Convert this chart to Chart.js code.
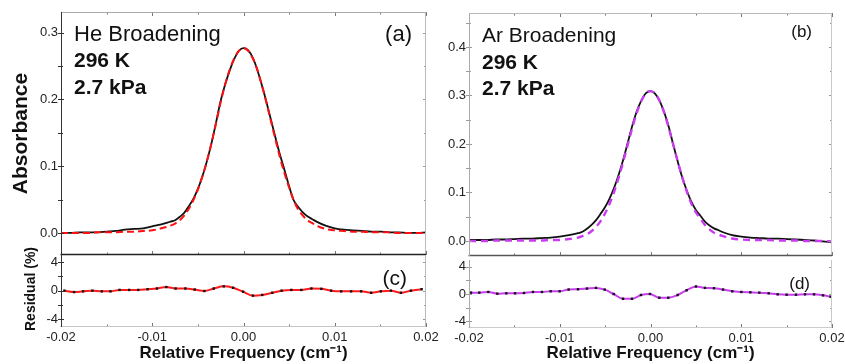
<!DOCTYPE html>
<html><head><meta charset="utf-8">
<script src="https://cdn.jsdelivr.net/npm/chart.js@4.4.1/dist/chart.umd.min.js"></script>
<style>
html,body{margin:0;padding:0;background:#fff;}
#wrap{position:relative;width:845px;height:364px;overflow:hidden;background:#fff;}
canvas{position:absolute;}
</style></head><body>
<div id="wrap">
<canvas id="c1" width="445" height="256" style="left:0;top:0"></canvas>
<canvas id="c2" width="445" height="124" style="left:0;top:240px"></canvas>
<canvas id="c3" width="415" height="257" style="left:430px;top:0"></canvas>
<canvas id="c4" width="415" height="108" style="left:430px;top:256px"></canvas>
</div>
<script>
// ---------- data ----------
const freq = [-0.020,-0.019,-0.018,-0.017,-0.016,-0.015,-0.014,-0.013,-0.012,-0.011,-0.010,-0.009,-0.008,
  -0.0075,-0.007,-0.0065,-0.006,-0.0055,-0.005,-0.0045,-0.004,-0.0035,-0.003,-0.0025,-0.002,-0.0015,-0.001,-0.0005,
  0,
  0.0005,0.001,0.0015,0.002,0.0025,0.003,0.0035,0.004,0.0045,0.005,0.0055,0.006,0.0065,0.007,0.0075,
  0.008,0.009,0.010,0.011,0.012,0.013,0.014,0.015,0.016,0.017,0.018,0.019,0.020];

const heMeasured = [0.000,0.000,0.001,0.001,0.001,0.002,0.003,0.005,0.006,0.007,0.010,0.013,0.017,
  0.019,0.024,0.030,0.040,0.051,0.066,0.085,0.108,0.135,0.166,0.198,0.223,0.244,0.261,0.273,
  0.277,
  0.274,0.263,0.245,0.222,0.197,0.170,0.143,0.117,0.094,0.070,0.049,0.039,0.031,0.025,0.021,
  0.017,0.011,0.007,0.005,0.004,0.003,0.002,0.002,0.001,0.001,0.000,0.000,0.001];

const heFit = [0.000,0.000,0.000,0.000,0.001,0.001,0.001,0.002,0.002,0.003,0.004,0.007,0.011,
  0.014,0.019,0.026,0.036,0.049,0.065,0.085,0.108,0.135,0.165,0.196,0.223,0.245,0.262,0.273,
  0.277,
  0.273,0.262,0.245,0.222,0.196,0.168,0.140,0.113,0.089,0.068,0.049,0.035,0.026,0.019,0.015,
  0.011,0.006,0.004,0.003,0.002,0.002,0.001,0.001,0.001,0.000,0.000,0.000,0.000];

const arMeasured = [0.002,0.002,0.002,0.003,0.003,0.004,0.005,0.005,0.006,0.007,0.009,0.012,0.016,
  0.019,0.025,0.033,0.043,0.056,0.070,0.088,0.110,0.137,0.168,0.203,0.238,0.268,0.290,0.305,
  0.309,
  0.304,0.289,0.266,0.236,0.199,0.164,0.131,0.104,0.081,0.064,0.052,0.040,0.032,0.026,0.022,
  0.018,0.012,0.009,0.007,0.006,0.005,0.005,0.004,0.003,0.002,0.001,-0.001,-0.003];

const arFit = [0.000,0.000,0.000,0.001,0.001,0.001,0.001,0.001,0.001,0.002,0.002,0.004,0.007,
  0.010,0.014,0.020,0.029,0.041,0.057,0.077,0.102,0.131,0.164,0.199,0.234,0.265,0.289,0.304,
  0.309,
  0.304,0.289,0.265,0.234,0.199,0.164,0.131,0.102,0.077,0.059,0.046,0.033,0.024,0.017,0.013,
  0.010,0.005,0.003,0.002,0.002,0.002,0.001,0.001,0.001,0.000,0.000,0.000,-0.001];

const heResFreq = [-0.01963,-0.01857,-0.01758,-0.01656,-0.01553,-0.01458,-0.01359,-0.01253,-0.01154,-0.01051,
  -0.00949,-0.00846,-0.00744,-0.00637,-0.00535,-0.00429,-0.00326,-0.00216,-0.00114,-0.00004,
  0.00103,0.00205,0.00315,0.00418,0.00524,0.00634,0.00744,0.00853,0.00960,0.01070,
  0.01179,0.01289,0.01399,0.01505,0.01615,0.01725,0.01835,0.01952];
const heResidual = [0.0,-0.2,-0.1,0.0,-0.1,-0.1,0.1,0.1,0.1,0.2,
  0.3,0.5,0.3,0.3,0.15,-0.05,0.3,0.6,0.4,-0.15,
  -0.7,-0.6,-0.3,0.0,0.1,0.1,0.3,0.25,0.0,-0.1,
  -0.1,-0.1,-0.3,-0.1,0.0,-0.3,0.0,0.2];

const arResFreq = [-0.01978,-0.01886,-0.01787,-0.01688,-0.01589,-0.01493,-0.01394,-0.01295,-0.01196,-0.01100,
  -0.01001,-0.00902,-0.00799,-0.00700,-0.00601,-0.00505,-0.00406,-0.00303,-0.00204,-0.00105,
  -0.00006,0.00097,0.00196,0.00299,0.00398,0.00501,0.00600,0.00699,0.00799,0.00901,
  0.01001,0.01100,0.01199,0.01302,0.01401,0.01500,0.01603,0.01703,0.01802,0.01901,0.01985];
const arResidual = [0.2,0.2,0.3,0.05,0.1,0.1,0.15,0.3,0.3,0.4,
  0.4,0.65,0.7,0.8,0.9,0.65,0.0,-0.7,-0.7,-0.15,
  0.0,-0.55,-0.55,-0.15,0.55,1.1,0.9,0.85,0.65,0.4,
  0.3,0.25,0.2,0.1,-0.05,-0.1,-0.1,-0.05,-0.05,-0.2,-0.4];

const xTicks = [-0.02,-0.01,0,0.01,0.02];
const xTickLabels = ['-0.02','-0.01','0.00','0.01','0.02'];
const xMinor = [-0.015,-0.005,0.005,0.015];
const heTicks = [0,0.1,0.2,0.3];
const heTickLabels = ['0.0','0.1','0.2','0.3'];
const heMinor = [0.05,0.15,0.25];
const arTicks = [0,0.1,0.2,0.3,0.4];
const arTickLabels = ['0.0','0.1','0.2','0.3','0.4'];
const arMinor = [0.05,0.15,0.25,0.35,0.45];
const resTicks = [-4,0,4];
const resTickLabels = ['-4','0','4'];
const resMinor = [-2,2];

// ---------- helpers ----------
const FONT = "'Liberation Sans', Arial, Helvetica, sans-serif";
const pts = (xs, ys) => xs.map((x, i) => ({x, y: ys[i]}));

const framePlugin = {
  id: 'frame',
  afterDraw(chart, args, o) {
    const {ctx, chartArea: a} = chart;
    const xs = chart.scales.x, ys = chart.scales.y;
    ctx.save();
    const line = (c, w, x1, y1, x2, y2) => {
      if (!c) return;
      ctx.strokeStyle = c; ctx.lineWidth = w;
      ctx.beginPath(); ctx.moveTo(x1, y1); ctx.lineTo(x2, y2); ctx.stroke();
    };
    // ticks
    const xt = (vals, len) => vals.forEach(v => {
      const px = Math.round(xs.getPixelForValue(v)) + 0.5;
      if (o.tickTop) line('#777', 1, px, a.top, px, a.top + len);
      if (o.tickBottom) line('#777', 1, px, a.bottom, px, a.bottom - len);
    });
    xt(o.xMajor, 4); xt(o.xMinor, 2.5);
    const yt = (vals, len) => vals.forEach(v => {
      const py = Math.round(ys.getPixelForValue(v)) + 0.5;
      if (py < a.top || py > a.bottom) return;
      line(o.leftTickColor, 1, a.left - 3, py, a.left + len, py);
      line('#999', 1, a.right, py, a.right - len, py);
    });
    yt(o.yMajor, 3); yt(o.yMinor, 2);
    // borders
    const L = Math.round(a.left) + 0.5, R = Math.round(a.right) - 0.5;
    const T = Math.round(a.top) + 0.5, B = Math.round(a.bottom) - 0.5;
    if (o.top) line(o.top[0], o.top[1], a.left, T, a.right, T);
    if (o.right) line(o.right[0], o.right[1], R, a.top, R, a.bottom);
    if (o.bottom) line(o.bottom[0], o.bottom[1], a.left - 0.5, B, a.right, B);
    if (o.left) line(o.left[0], o.left[1], L, a.top, L, a.bottom);
    // annotation texts
    (o.texts || []).forEach(t => {
      ctx.font = t.font; ctx.fillStyle = '#111';
      ctx.textBaseline = 'middle';
      ctx.textAlign = t.align || 'left';
      const x = t.fromRight ? a.right - t.dx : a.left + t.dx;
      ctx.fillText(t.text, x, a.top + t.dy);
    });
    // rotated side title
    if (o.sideTitle) {
      const s = o.sideTitle;
      ctx.save();
      ctx.translate(s.x, (a.top + a.bottom) / 2 + (s.dy || 0));
      ctx.rotate(-Math.PI / 2);
      ctx.font = s.font; ctx.fillStyle = '#111';
      ctx.textAlign = 'center'; ctx.textBaseline = 'middle';
      ctx.fillText(s.text, 0, 0);
      ctx.restore();
    }
    ctx.restore();
  }
};
Chart.register(framePlugin);

function yScale(min, max, ticks, labels, width, title) {
  return {
    type: 'linear', min, max,
    afterBuildTicks: s => { s.ticks = ticks.map(v => ({value: v})); },
    ticks: {autoSkip: false, padding: 3, color: '#222', font: {family: FONT, size: 13},
      callback: (v, i) => labels[i]},
    grid: {display: false, drawTicks: false},
    border: {display: false},
    title: title || {display: false},
    afterFit: s => { s.width = width; s.paddingTop = 0; s.paddingBottom = 0; }
  };
}
function xScale(show, height) {
  const base = {
    type: 'linear', min: -0.02, max: 0.02,
    afterBuildTicks: s => { s.ticks = xTicks.map(v => ({value: v})); },
    grid: {display: false, drawTicks: false},
    border: {display: false}
  };
  if (!show) return Object.assign(base, {display: false});
  return Object.assign(base, {
    position: 'bottom',
    ticks: {autoSkip: false, maxRotation: 0, padding: 3, color: '#222',
      font: {family: FONT, size: 13}, callback: (v, i) => xTickLabels[i]},
    title: {display: true, text: 'Relative Frequency (cm\u207B\u00B9)', color: '#111',
      font: {family: FONT, size: 17, weight: 'bold'}, padding: {top: 0, bottom: 0}},
    afterFit: s => { s.height = height; s.paddingLeft = 0; s.paddingRight = 0; }
  });
}
const common = {responsive: false, animation: false, events: [], devicePixelRatio: 1};

// ---------- (a) He absorbance ----------
new Chart(document.getElementById('c1'), {
  type: 'line',
  data: {datasets: [
    {data: pts(freq, heFit), borderColor: '#ff1010', borderWidth: 2, borderDash: [7, 4],
     pointRadius: 0, cubicInterpolationMode: 'monotone'},
    {data: pts(freq, heMeasured), borderColor: '#111', borderWidth: 1.8,
     pointRadius: 0, cubicInterpolationMode: 'monotone'}
  ]},
  options: Object.assign({}, common, {
    layout: {padding: {left: 0, top: 12, right: 19, bottom: 1}},
    plugins: {legend: {display: false}, tooltip: {enabled: false},
      frame: {left: ['#333', 1], top: ['#aaa', 1], right: ['#bbb', 1], bottom: ['#222', 1.3],
        leftTickColor: '#333', tickTop: true, tickBottom: true,
        xMajor: xTicks, xMinor: xMinor, yMajor: heTicks, yMinor: heMinor,
        texts: [
          {text: 'He Broadening', font: `22px ${FONT}`, dx: 13, dy: 23},
          {text: '296 K', font: `bold 21px ${FONT}`, dx: 13, dy: 49},
          {text: '2.7 kPa', font: `bold 21px ${FONT}`, dx: 13, dy: 76},
          {text: '(a)', font: `22px ${FONT}`, fromRight: true, dx: 14, dy: 23, align: 'right'}
        ]}},
    scales: {
      x: xScale(false),
      y: yScale(-0.033, 0.331, heTicks, heTickLabels, 61,
        {display: true, text: 'Absorbance', color: '#111',
         font: {family: FONT, size: 21, weight: 'bold'}, padding: {top: 9, bottom: 0}})
    }
  })
});

// ---------- (c) He residual ----------
new Chart(document.getElementById('c2'), {
  type: 'line',
  data: {datasets: [
    {data: pts(heResFreq, heResidual), borderColor: '#ff1a1a', borderWidth: 2,
     pointRadius: 1.7, pointStyle: 'rect', pointBackgroundColor: '#111', pointBorderWidth: 0,
     cubicInterpolationMode: 'monotone'}
  ]},
  options: Object.assign({}, common, {
    layout: {padding: {left: 0, top: 15, right: 19, bottom: 0}},
    plugins: {legend: {display: false}, tooltip: {enabled: false},
      frame: {left: ['#333', 1], right: ['#bbb', 1], bottom: ['#c4c4c4', 1],
        leftTickColor: '#333', tickTop: false, tickBottom: true,
        xMajor: xTicks, xMinor: xMinor, yMajor: resTicks, yMinor: resMinor,
        sideTitle: {text: 'Residual (%)', x: 31.5, dy: -2, font: `bold 14px ${FONT}`},
        texts: [{text: '(c)', font: `21px ${FONT}`, fromRight: true, dx: 19, dy: 24, align: 'right'}]}},
    scales: {
      x: xScale(true, 37),
      y: yScale(-5.1, 5, resTicks, resTickLabels, 61)
    }
  })
});

// ---------- (b) Ar absorbance ----------
new Chart(document.getElementById('c3'), {
  type: 'line',
  data: {datasets: [
    {data: pts(freq, arFit), borderColor: '#c93cf0', borderWidth: 2.4, borderDash: [7, 5],
     pointRadius: 0, cubicInterpolationMode: 'monotone'},
    {data: pts(freq, arMeasured), borderColor: '#111', borderWidth: 1.8,
     pointRadius: 0, cubicInterpolationMode: 'monotone'}
  ]},
  options: Object.assign({}, common, {
    layout: {padding: {left: 0, top: 13, right: 13, bottom: 1}},
    plugins: {legend: {display: false}, tooltip: {enabled: false},
      frame: {left: ['#aaa', 1], top: ['#bbb', 1], right: ['#c8c8c8', 1], bottom: ['#555', 1.3],
        leftTickColor: '#999', tickTop: true, tickBottom: true,
        xMajor: xTicks, xMinor: xMinor, yMajor: arTicks, yMinor: arMinor,
        texts: [
          {text: 'Ar Broadening', font: `21px ${FONT}`, dx: 13, dy: 23},
          {text: '296 K', font: `bold 21px ${FONT}`, dx: 13, dy: 50},
          {text: '2.7 kPa', font: `bold 21px ${FONT}`, dx: 13, dy: 76},
          {text: '(b)', font: `17px ${FONT}`, fromRight: true, dx: 20, dy: 19, align: 'right'}
        ]}},
    scales: {
      x: xScale(false),
      y: yScale(-0.031, 0.47, arTicks, arTickLabels, 39)
    }
  })
});

// ---------- (d) Ar residual ----------
new Chart(document.getElementById('c4'), {
  type: 'line',
  data: {datasets: [
    {data: pts(arResFreq, arResidual), borderColor: '#c93cf0', borderWidth: 2,
     pointRadius: 1.7, pointStyle: 'rect', pointBackgroundColor: '#111', pointBorderWidth: 0,
     cubicInterpolationMode: 'monotone'}
  ]},
  options: Object.assign({}, common, {
    layout: {padding: {left: 0, top: 0, right: 13, bottom: 0}},
    plugins: {legend: {display: false}, tooltip: {enabled: false},
      frame: {left: ['#aaa', 1], right: ['#c8c8c8', 1], bottom: ['#ccc', 1],
        leftTickColor: '#999', tickTop: false, tickBottom: true,
        xMajor: xTicks, xMinor: xMinor, yMajor: resTicks, yMinor: resMinor,
        texts: [{text: '(d)', font: `17px ${FONT}`, fromRight: true, dx: 22, dy: 24, align: 'right'}]}},
    scales: {
      x: xScale(true, 36),
      y: yScale(-5, 5, resTicks, resTickLabels, 39)
    }
  })
});
</script>
</body></html>
